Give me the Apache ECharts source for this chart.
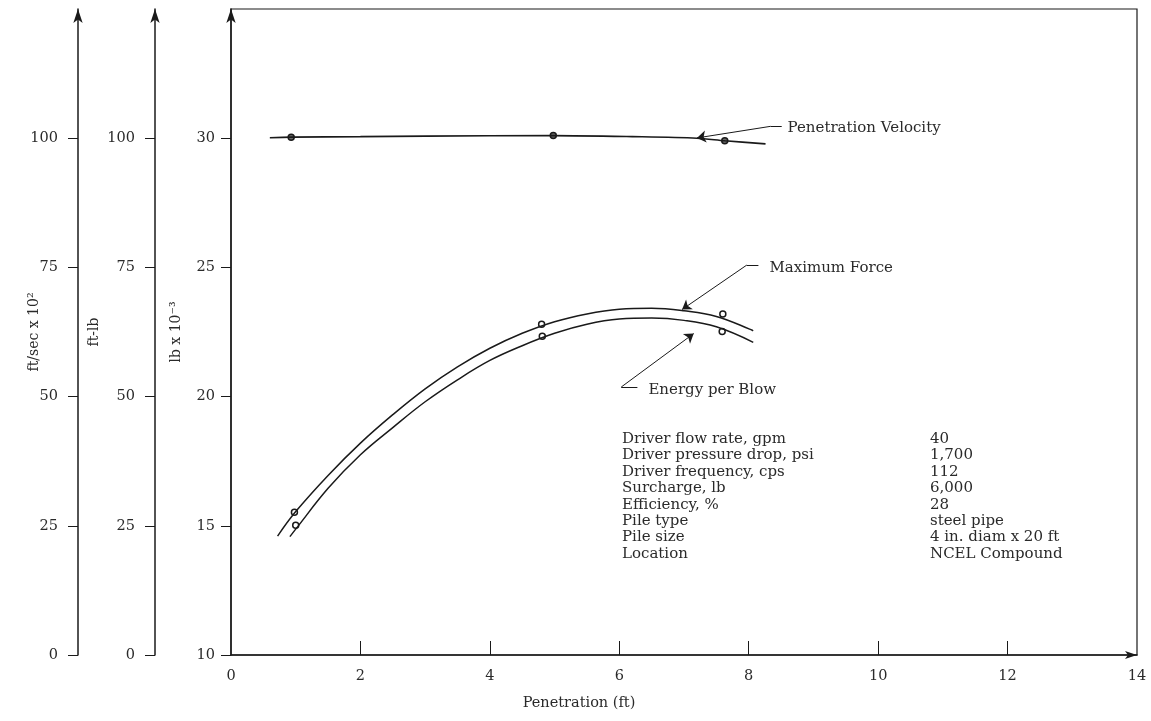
<!DOCTYPE html>
<html>
<head>
<meta charset="utf-8">
<title>Pile driving - penetration</title>
<script src="https://cdn.jsdelivr.net/npm/echarts@6/dist/echarts.min.js"></script>
<style>
    html, body { margin: 0; padding: 0; background: #fff; }
    #pile_chart { width: 1151px; height: 721px; }
</style>
</head>
<body>
<div id="pile_chart"></div>
<script>

// Chart data
// ------------------------------

// Penetration (ft) / penetration velocity (ft/sec x 10^2)
var velocityX = [0.6, 0.93, 2.0, 3.0, 4.98, 6.2, 7.2, 7.63, 8.26];
var velocityY = [100.1, 100.2, 100.3, 100.4, 100.5, 100.3, 100.0, 99.5, 98.9];
var velocityPtsX = [0.93, 4.98, 7.63];
var velocityPtsY = [100.2, 100.5, 99.5];

// Maximum force (lb x 10^-3)
var forceX = [0.72, 1.0, 1.5, 2.0, 2.5, 3.0, 3.5, 4.0, 4.5, 5.0, 5.5, 6.0, 6.5, 7.0, 7.5, 8.07];
var forceY = [14.6, 15.55, 16.95, 18.2, 19.3, 20.3, 21.15, 21.87, 22.45, 22.9, 23.2, 23.38, 23.42, 23.32, 23.1, 22.55];
var forcePtsX = [0.98, 4.8, 7.6];
var forcePtsY = [15.52, 22.8, 23.2];

// Energy per blow (ft-lb)
var energyX = [0.91, 1.0, 1.5, 2.0, 2.5, 3.0, 3.5, 4.0, 4.5, 5.0, 5.5, 6.0, 6.5, 7.0, 7.5, 8.07];
var energyY = [22.9, 24.35, 32.25, 38.75, 44.0, 49.0, 53.25, 57.0, 59.85, 62.25, 64.0, 65.0, 65.2, 64.75, 63.5, 60.5];
var energyPtsX = [1.0, 4.81, 7.59];
var energyPtsY = [25.1, 61.7, 62.6];

// Tick labels
var xTickLabels = [0, 2, 4, 6, 8, 10, 12, 14];
var xTickMarks = [2, 4, 6, 8, 10, 12];
var velocityTicks = [0, 25, 50, 75, 100];
var energyTicks = [0, 25, 50, 75, 100];
var forceTicks = [10, 15, 20, 25, 30];

// Curve callouts (penetration, lb x 10^-3)
var calloutNames = ['Penetration Velocity', 'Maximum Force', 'Energy per Blow'];
var calloutTip = [[7.2, 30.01], [6.97, 23.37], [7.15, 22.44]];
var calloutElbow = [[8.34, 30.46], [7.97, 25.09], [6.03, 20.37]];
var calloutEnd = [[8.51, 30.46], [8.15, 25.09], [6.28, 20.37]];
var calloutText = [[8.6, 30.4], [8.32, 24.98], [6.45, 20.26]];

// Test conditions
var tableLabels = ['Driver flow rate, gpm', 'Driver pressure drop, psi', 'Driver frequency, cps',
    'Surcharge, lb', 'Efficiency, %', 'Pile type', 'Pile size', 'Location'];
var tableValues = ['40', '1,700', '112', '6,000', '28', 'steel pipe', '4 in. diam x 20 ft', 'NCEL Compound'];


// Setup module
// ------------------------------

var PileChart = function() {

    var zip = function(xs, ys) {
        return xs.map(function(x, i) { return [x, ys[i]]; });
    };

    var _pileChart = function() {
        if (typeof echarts == 'undefined') {
            console.warn('Warning - echarts.min.js is not loaded.');
            return;
        }

        var chart_element = document.getElementById('pile_chart');
        if (!chart_element) return;

        var chart = echarts.init(chart_element);

        var font = '"DejaVu Serif", "Liberation Serif", serif';
        var ink = '#1a1a1a';
        var textInk = '#2a2a2a';

        // Shared y axis look
        var yAxisBase = function(name, min, max, offset, ticks, gap, margin) {
            return {
                type: 'value',
                name: name,
                nameLocation: 'middle',
                nameRotate: 90,
                nameGap: gap,
                nameMoveOverlap: false,
                nameTextStyle: { color: textInk, fontSize: 14, fontFamily: font },
                position: 'left',
                offset: offset,
                min: min,
                max: max,
                interval: (max - min) / 5,
                axisLine: {
                    show: true,
                    onZero: false,
                    symbol: ['none', 'arrow'],
                    symbolSize: [7, 14],
                    lineStyle: { color: ink, width: 1.5 }
                },
                axisTick: {
                    show: true,
                    length: 10,
                    customValues: ticks,
                    lineStyle: { color: ink, width: 1 }
                },
                axisLabel: {
                    customValues: ticks,
                    margin: margin,
                    color: textInk,
                    fontSize: 14.5,
                    fontFamily: font
                },
                splitLine: { show: false }
            };
        };

        // Callout leader lines
        var leaderLines = [];
        calloutNames.forEach(function(n, i) {
            leaderLines.push([
                { coord: calloutEnd[i], symbol: 'none' },
                { coord: calloutElbow[i], symbol: 'none' }
            ]);
            leaderLines.push([
                { coord: calloutElbow[i], symbol: 'none' },
                { coord: calloutTip[i], symbol: 'arrow', symbolSize: 9 }
            ]);
        });

        var pointStyle = {
            color: '#fff',
            borderColor: ink,
            borderWidth: 1.5,
            opacity: 1
        };

        chart.setOption({

            animation: false,

            textStyle: {
                fontFamily: font,
                color: textInk
            },

            grid: {
                left: 231,
                right: 14,
                top: 9,
                bottom: 66,
                outerBoundsMode: 'none',
                show: true,
                borderColor: ink,
                borderWidth: 1.2,
                backgroundColor: 'transparent'
            },

            // Horizontal axis
            xAxis: [{
                type: 'value',
                min: 0,
                max: 14,
                interval: 2,
                name: 'Penetration (ft)',
                nameLocation: 'middle',
                nameGap: 41,
                nameMoveOverlap: false,
                nameTextStyle: {
                    color: textInk,
                    fontSize: 14.5,
                    fontFamily: font,
                    padding: [0, 210, 0, 0]
                },
                axisLine: {
                    onZero: false,
                    symbol: ['none', 'arrow'],
                    symbolSize: [6, 12],
                    lineStyle: { color: ink, width: 1.5 }
                },
                axisTick: {
                    inside: true,
                    length: 14,
                    customValues: xTickMarks,
                    lineStyle: { color: ink, width: 1 }
                },
                axisLabel: {
                    customValues: xTickLabels,
                    margin: 14,
                    color: textInk,
                    fontSize: 14.5,
                    fontFamily: font
                },
                splitLine: { show: false }
            }],

            // Vertical axes
            yAxis: [
                yAxisBase('ft/sec x 10\u00b2', 0, 125, 153, velocityTicks, 37, 20),
                yAxisBase('ft-lb', 0, 125, 76, energyTicks, 54, 20),
                yAxisBase('lb x 10\u207b\u00b3', 10, 35, 0, forceTicks, 48, 16)
            ],

            // Test conditions table
            graphic: [
                {
                    type: 'text',
                    left: 622,
                    top: 431,
                    style: {
                        text: tableLabels.join('\n'),
                        font: '15px ' + font,
                        lineHeight: 16.4,
                        fill: textInk
                    }
                },
                {
                    type: 'text',
                    left: 930,
                    top: 431,
                    style: {
                        text: tableValues.join('\n'),
                        font: '15px ' + font,
                        lineHeight: 16.4,
                        fill: textInk
                    }
                }
            ],

            series: [
                {
                    name: 'Penetration Velocity',
                    type: 'line',
                    yAxisIndex: 0,
                    smooth: 0.3,
                    showSymbol: false,
                    lineStyle: { color: ink, width: 1.6 },
                    data: zip(velocityX, velocityY)
                },
                {
                    name: 'Velocity points',
                    type: 'scatter',
                    yAxisIndex: 0,
                    symbolSize: 6,
                    itemStyle: { color: '#666', borderColor: ink, borderWidth: 1.5, opacity: 1 },
                    data: zip(velocityPtsX, velocityPtsY)
                },
                {
                    name: 'Maximum Force',
                    type: 'line',
                    yAxisIndex: 2,
                    smooth: 0.4,
                    showSymbol: false,
                    lineStyle: { color: ink, width: 1.5 },
                    data: zip(forceX, forceY)
                },
                {
                    name: 'Force points',
                    type: 'scatter',
                    yAxisIndex: 2,
                    symbolSize: 6,
                    itemStyle: pointStyle,
                    data: zip(forcePtsX, forcePtsY)
                },
                {
                    name: 'Energy per Blow',
                    type: 'line',
                    yAxisIndex: 1,
                    smooth: 0.4,
                    showSymbol: false,
                    lineStyle: { color: ink, width: 1.5 },
                    data: zip(energyX, energyY)
                },
                {
                    name: 'Energy points',
                    type: 'scatter',
                    yAxisIndex: 1,
                    symbolSize: 6,
                    itemStyle: pointStyle,
                    data: zip(energyPtsX, energyPtsY)
                },
                {
                    name: 'Callouts',
                    type: 'scatter',
                    yAxisIndex: 2,
                    symbolSize: 0,
                    silent: true,
                    itemStyle: { opacity: 1 },
                    label: {
                        show: true,
                        position: 'right',
                        distance: 0,
                        color: textInk,
                        fontSize: 15,
                        fontFamily: font,
                        formatter: function(p) { return p.data[2]; }
                    },
                    data: calloutNames.map(function(n, i) {
                        return [calloutText[i][0], calloutText[i][1], n];
                    }),
                    markLine: {
                        silent: true,
                        animation: false,
                        label: { show: false },
                        lineStyle: { color: ink, type: 'solid', width: 1, opacity: 1 },
                        data: leaderLines
                    }
                }
            ]
        });

        window.addEventListener('resize', function() {
            chart.resize();
        });
    };

    return {
        init: function() {
            _pileChart();
        }
    }
}();


// Initialize module
// ------------------------------

document.addEventListener('DOMContentLoaded', function() {
    PileChart.init();
});
</script>
</body>
</html>
